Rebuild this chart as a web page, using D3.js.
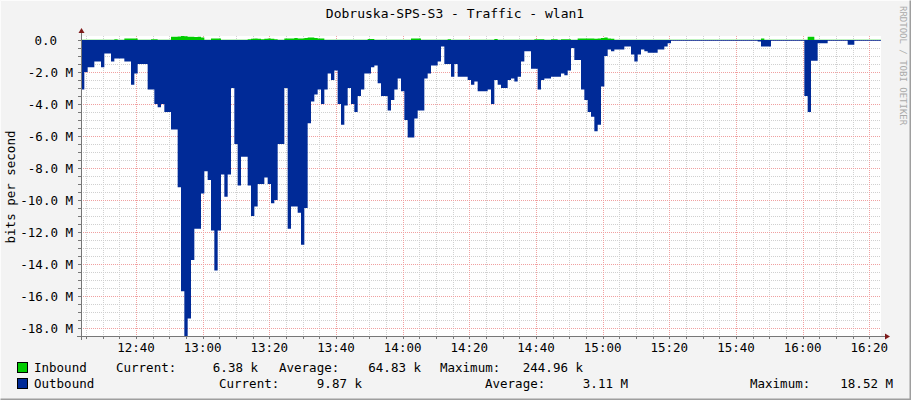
<!DOCTYPE html>
<html>
<head>
<meta charset="utf-8">
<script src="https://cdn.jsdelivr.net/npm/d3@7"></script>
<style>
body { margin: 0; background: #f3f3f3; }
text { font-family: "DejaVu Sans Mono", monospace; }
</style>
</head>
<body>
<div id="container"></div>
<script>
// one value per minute, in Mbit/s, starting 12:23:30
let outbound = [
 3.1,2.0,1.7,1.7,1.35,1.35,1.7,0.85,0.85,1.35, 1.15,1.15,1.15,1.35,1.35,2.8,2.1,1.5,1.5,1.5,
 3.1,3.1,4.0,4.2,4.0,4.5,4.5,5.6,5.6,9.2, 15.7,18.5,17.4,13.75,11.8,11.8,9.6,8.2,8.75,11.9,
 14.4,11.9,8.4,9.8,8.4,3.0,6.5,9.1,7.3,7.3, 9.1,11.0,10.4,9.0,9.0,8.6,9.0,10.2,10.0,6.5,
 6.5,3.0,11.8,10.4,10.4,10.8,12.8,10.5,5.2,3.85, 3.4,3.1,4.0,3.1,2.1,2.5,1.9,4.0,5.3,4.1,
 3.0,4.0,4.5,3.5,3.1,2.1,2.1,1.7,1.6,2.7, 3.5,3.5,4.4,3.75,3.1,2.4,3.2,5.0,6.1,6.1,
 4.9,4.4,4.4,2.4,2.1,1.6,1.6,1.35,0.4,1.5, 1.5,2.3,1.5,2.3,2.3,2.3,2.5,2.8,2.6,3.2,
 3.2,3.2,3.1,4.0,2.5,2.8,3.0,3.0,2.5,2.4, 2.6,2.3,1.35,0.7,0.7,1.8,1.8,3.1,2.5,2.4,
 2.4,2.3,2.3,2.3,2.1,2.2,1.9,0.5,1.25,1.25, 3.1,3.75,4.5,4.8,5.7,5.3,2.9,1.0,0.6,0.7,
 0.6,0.6,0.6,0.4,0.4,0.9,1.35,0.9,0.6,0.7, 0.8,0.8,0.8,0.6,0.6,0.4,0.2,0.05,0.05,0.05,
 0.05,0.05,0.05,0.05,0.05,0.05,0.05,0.05,0.05,0.05, 0.05,0.05,0.05,0.05,0.05,0.05,0.05,0.05,0.05,0.05,
 0.05,0.05,0.05,0.1,0.4,0.4,0.4,0.05,0.05,0.05, 0.05,0.05,0.05,0.05,0.05,0.05,0.05,3.5,4.5,1.3,
 1.3,0.2,0.2,0.2,0.05,0.05,0.05,0.05,0.05,0.05, 0.3,0.3,0.05,0.05,0.05,0.05,0.05,0.05,0.05,0.05
];
let inbound = [
 0.02,0.02,0.02,0.02,0.02,0.02,0.02,0.02,0.02,0.02, 0.05,0.02,0.02,0.1,0.1,0.1,0.1,0.02,0.02,0.02,
 0.02,0.05,0.05,0.02,0.02,0.02,0.02,0.2,0.2,0.22, 0.25,0.24,0.2,0.2,0.18,0.2,0.15,0.02,0.02,0.1,
 0.1,0.1,0.02,0.02,0.02,0.02,0.02,0.02,0.02,0.02, 0.05,0.08,0.1,0.08,0.05,0.08,0.1,0.08,0.05,0.02,
 0.02,0.1,0.1,0.1,0.12,0.1,0.1,0.12,0.15,0.15, 0.12,0.1,0.1,0.02,0.02,0.02,0.02,0.02,0.02,0.02,
 0.02,0.02,0.02,0.02,0.02,0.02,0.07,0.07,0.02,0.02, 0.02,0.02,0.02,0.02,0.02,0.02,0.02,0.02,0.02,0.1,
 0.1,0.1,0.02,0.02,0.02,0.02,0.02,0.02,0.02,0.02, 0.05,0.02,0.02,0.02,0.02,0.02,0.02,0.02,0.02,0.02,
 0.02,0.02,0.02,0.02,0.07,0.02,0.02,0.02,0.02,0.02, 0.02,0.02,0.02,0.02,0.02,0.02,0.05,0.05,0.05,0.02,
 0.02,0.05,0.05,0.02,0.05,0.05,0.05,0.02,0.02,0.1, 0.1,0.1,0.1,0.1,0.08,0.1,0.12,0.15,0.1,0.08,
 0.02,0.02,0.02,0.02,0.02,0.02,0.02,0.02,0.02,0.02, 0.02,0.02,0.02,0.02,0.02,0.02,0.02,0.02,0.02,0.02,
 0.02,0.02,0.02,0.02,0.02,0.02,0.02,0.02,0.02,0.02, 0.02,0.02,0.02,0.02,0.02,0.02,0.02,0.02,0.02,0.02,
 0.02,0.02,0.02,0.02,0.1,0.02,0.02,0.02,0.02,0.02, 0.02,0.02,0.02,0.02,0.02,0.02,0.02,0.02,0.2,0.2,
 0.02,0.02,0.02,0.02,0.02,0.02,0.02,0.02,0.02,0.02, 0.02,0.02,0.02,0.02,0.02,0.02,0.02,0.02,0.02,0.02
];
let yTicks = [0, -2, -4, -6, -8, -10, -12, -14, -16, -18];
let legendRows = [
  { name: "Inbound", color: "#00cc00", parts: [["Current:", "6.38 k"], ["Average:", "64.83 k"], ["Maximum:", "244.96 k"]] },
  { name: "Outbound", color: "#002a97", parts: [["Current:", "9.87 k"], ["Average:", "3.11 M"], ["Maximum:", "18.52 M"]] }
];

let W = 911, H = 400;
let start = new Date(2020, 0, 1, 12, 23, 30);
let end = d3.timeMinute.offset(start, 240);
let t = i => d3.timeMinute.offset(start, i);

let x = d3.scaleTime().domain([start, end]).range([81, 881]);
let y = d3.scaleLinear().domain([-18.5, 0.25]).range([336, 36]);

let svg = d3.select("#container").append("svg")
  .attr("width", W).attr("height", H);

// frame
svg.append("rect").attr("width", W).attr("height", H).attr("fill", "#f3f3f3");
svg.append("path").attr("d", `M0.5,${H-0.5}V0.5H${W-0.5}`).attr("stroke", "#fcfcfc").attr("fill", "none");
svg.append("path").attr("d", `M0.5,${H-0.5}H${W-0.5}V0.5`).attr("stroke", "#9e9e9e").attr("fill", "none").attr("stroke-width", 2);
svg.append("rect").attr("x", 81).attr("y", 36).attr("width", 800).attr("height", 300).attr("fill", "#fff");

// grid
let minorX = d3.timeMinute.every(5).range(start, end);
let majorX = d3.timeMinute.every(20).range(start, end);
let minorY = d3.range(-18, 0.3, 0.5);
svg.append("g").selectAll("line").data(minorX).join("line")
  .attr("x1", d => Math.round(x(d)) + 0.5).attr("x2", d => Math.round(x(d)) + 0.5)
  .attr("y1", 36).attr("y2", 336)
  .attr("stroke", "#d0d0d0").attr("stroke-dasharray", "1,1");
svg.append("g").selectAll("line").data(minorY).join("line")
  .attr("x1", 81).attr("x2", 881)
  .attr("y1", d => Math.round(y(d)) + 0.5).attr("y2", d => Math.round(y(d)) + 0.5)
  .attr("stroke", "#d0d0d0").attr("stroke-dasharray", "1,1");
svg.append("g").selectAll("line").data(majorX).join("line")
  .attr("x1", d => Math.round(x(d)) + 0.5).attr("x2", d => Math.round(x(d)) + 0.5)
  .attr("y1", 36).attr("y2", 336)
  .attr("stroke", "#f0a0a0").attr("stroke-dasharray", "1,1");
svg.append("g").selectAll("line").data(yTicks).join("line")
  .attr("x1", 81).attr("x2", 881)
  .attr("y1", d => Math.round(y(d)) + 0.5).attr("y2", d => Math.round(y(d)) + 0.5)
  .attr("stroke", "#f0a0a0").attr("stroke-dasharray", "1,1");

// areas
let outData = outbound.map((v, i) => ({ t: t(i), v: -v }));
outData.push({ t: end, v: -outbound[outbound.length - 1] });
let inData = inbound.map((v, i) => ({ t: t(i), v: v }));
inData.push({ t: end, v: inbound[inbound.length - 1] });

let area = d3.area().curve(d3.curveStepAfter)
  .x(d => x(d.t)).y0(y(0)).y1(d => y(d.v));
svg.append("path").datum(inData).attr("d", area).attr("fill", "#00cc00");
svg.append("path").datum(outData).attr("d", area).attr("fill", "#002a97");

// axes
let axisColor = "#777";
svg.append("line").attr("x1", 77).attr("x2", 885).attr("y1", 336.5).attr("y2", 336.5).attr("stroke", axisColor);
svg.append("line").attr("x1", 81.5).attr("x2", 81.5).attr("y1", 340).attr("y2", 33).attr("stroke", axisColor);
svg.append("path").attr("d", "M885,333.5L890,336.5L885,339.5Z").attr("fill", "#7f1a1a");
svg.append("path").attr("d", "M78.5,33L81.5,28L84.5,33Z").attr("fill", "#7f1a1a");
svg.append("g").selectAll("line").data(minorX).join("line")
  .attr("x1", d => Math.round(x(d)) + 0.5).attr("x2", d => Math.round(x(d)) + 0.5)
  .attr("y1", 336).attr("y2", 339).attr("stroke", axisColor);
svg.append("g").selectAll("line").data(minorY).join("line")
  .attr("x1", 78).attr("x2", 81)
  .attr("y1", d => Math.round(y(d)) + 0.5).attr("y2", d => Math.round(y(d)) + 0.5)
  .attr("stroke", axisColor);

// tick labels
let fmtT = d3.timeFormat("%H:%M");
svg.append("g").selectAll("text").data(majorX).join("text")
  .attr("x", d => x(d)).attr("y", 352).attr("text-anchor", "middle")
  .attr("font-size", 12.5).attr("fill", "#000").text(fmtT);
svg.append("g").selectAll("text").data(yTicks).join("text")
  .attr("x", d => d === 0 ? 57 : 73).attr("y", d => y(d) + 4.5).attr("text-anchor", "end")
  .attr("font-size", 12.5).attr("fill", "#000")
  .text(d => d === 0 ? "0.0" : d3.format(".1f")(d).replace("−", "-") + " M");

// titles
svg.append("text").attr("x", 455).attr("y", 18).attr("text-anchor", "middle")
  .attr("font-size", 13).text("Dobruska-SPS-S3 - Traffic - wlan1");
svg.append("text").attr("transform", "translate(15,187) rotate(-90)").attr("text-anchor", "middle")
  .attr("font-size", 12.5).text("bits per second");
svg.append("text").attr("transform", "translate(900,6) rotate(90)")
  .attr("font-size", 9).attr("fill", "#aaa").text("RRDTOOL / TOBI OETIKER");

// legend
let partX = [[116, 258, 279, 421, 440, 583], [219, 362, 485, 628, 750, 893]];
legendRows.forEach((row, r) => {
  let ly = 372 + r * 16;
  svg.append("rect").attr("x", 17.5).attr("y", ly - 9.5).attr("width", 10).attr("height", 10)
    .attr("fill", row.color).attr("stroke", "#000");
  svg.append("text").attr("x", 34).attr("y", ly).attr("font-size", 12.5).text(row.name);
  row.parts.forEach((p, k) => {
    svg.append("text").attr("x", partX[r][k * 2]).attr("y", ly).attr("font-size", 12.5).text(p[0]);
    svg.append("text").attr("x", partX[r][k * 2 + 1]).attr("y", ly).attr("text-anchor", "end")
      .attr("font-size", 12.5).text(p[1]);
  });
});
</script>
</body>
</html>
